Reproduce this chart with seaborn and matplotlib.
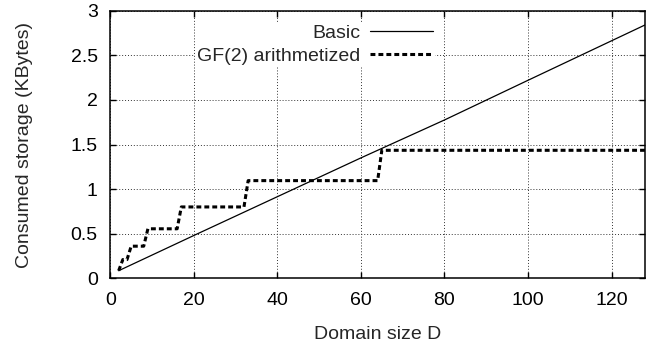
import matplotlib
matplotlib.use('Agg')
import matplotlib.pyplot as plt
import seaborn as sns

# values
domain_basic = [2, 20, 40, 60, 80, 100, 128]
storage_basic = [0.085, 0.48, 0.915, 1.35, 1.775, 2.22, 2.84]

domain_gf2 = [2, 3, 4, 5, 8, 9, 16, 17, 32, 33, 64, 65, 128]
storage_gf2 = [0.085, 0.21, 0.21, 0.36, 0.36, 0.555, 0.555, 0.80, 0.80, 1.095, 1.095, 1.435, 1.435]

x_ticks = [0, 20, 40, 60, 80, 100, 120]
y_ticks = [0, 0.5, 1, 1.5, 2, 2.5, 3]
y_ticklabels = ['0', '0.5', '1', '1.5', '2', '2.5', '3']

sns.set_style('white')
plt.rcParams['font.family'] = ['Liberation Sans Narrow', 'Liberation Sans', 'DejaVu Sans']
plt.rcParams['font.size'] = 14

fig = plt.figure(figsize=(6.62, 3.48), dpi=100)
ax = fig.add_axes([110.3 / 662, 69.7 / 348, (645 - 110.3) / 662, (278.3 - 10.7) / 348])

sns.lineplot(x=domain_basic, y=storage_basic, ax=ax, color='black', lw=0.9,
             label='Basic', estimator=None)
sns.lineplot(x=domain_gf2, y=storage_gf2, ax=ax, color='black', lw=2.2,
             linestyle=(0, (1.6, 1.0)), label='GF(2) arithmetized', estimator=None)

ax.set_xlim(0, 128)
ax.set_ylim(0, 3)
ax.set_xticks(x_ticks)
ax.set_yticks(y_ticks)
ax.set_yticklabels(y_ticklabels)
ax.grid(True, linestyle=(0, (1, 2)), color='#333333', lw=0.7)
ax.set_axisbelow(True)
ax.tick_params(direction='in', length=4.5, width=1, top=True, right=True,
               bottom=True, left=True, labelsize=14, colors='black')
ax.tick_params(axis='x', pad=10)
ax.tick_params(axis='y', pad=9)
for s in ax.spines.values():
    s.set_color('black')
    s.set_linewidth(1.1)

ax.set_xlabel('Domain size D', fontsize=14, labelpad=12)
ax.set_ylabel('Consumed storage (KBytes)', fontsize=14, labelpad=27)

leg = ax.legend(loc='upper right', bbox_to_anchor=(0.626, 0.993), markerfirst=False,
                frameon=True, fancybox=False, framealpha=1, edgecolor='none',
                facecolor='white', handlelength=3.25, handletextpad=0.5,
                labelspacing=0.3, borderpad=0.1, fontsize=14)
for t in leg.get_texts():
    t.set_ha('right')

fig.savefig('out.png', dpi=100)
